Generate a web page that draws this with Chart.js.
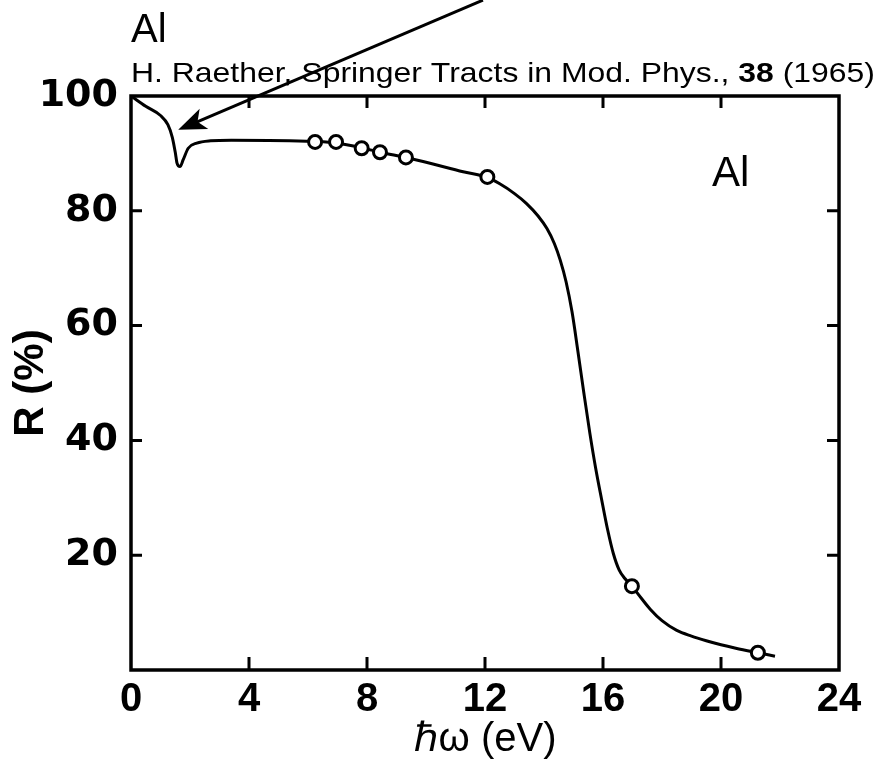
<!DOCTYPE html>
<html>
<head>
<meta charset="utf-8">
<script src="https://cdn.jsdelivr.net/npm/chart.js@4.4.0/dist/chart.umd.min.js"></script>
<style>
  html, body { margin: 0; padding: 0; background: #fff; }
  #wrap { width: 881px; height: 774px; }
</style>
</head>
<body>
<div id="wrap"><canvas id="myChart" width="881" height="774"></canvas></div>
<script>
// photon energy (eV) and reflectance (%)
const curveX = [0, 0.5, 1.0, 1.25, 1.4, 1.5, 1.56, 1.66, 1.77, 1.94, 2.23, 2.7, 3.4, 6.2, 6.95, 7.8, 8.45, 9.3, 9.9, 11.26, 12.08, 12.5, 13.0, 13.4, 13.8, 14.1, 14.35, 14.55, 14.75, 14.95, 15.15, 15.35, 15.55, 15.75, 15.95, 16.15, 16.35, 16.55, 16.75, 16.98, 17.3, 17.6, 18.0, 18.5, 19.0, 19.5, 20.0, 20.5, 21.25, 21.83];
const curveY = [100, 98.2, 96.6, 95.0, 92.8, 90.2, 88.3, 87.7, 88.9, 90.9, 91.8, 92.2, 92.3, 92.1, 91.8, 91.0, 90.2, 89.3, 88.6, 86.8, 85.8, 84.7, 83.0, 81.3, 79.1, 76.9, 74.3, 71.4, 67.6, 62.4, 55.5, 48.3, 41.4, 35.2, 29.8, 24.6, 20.3, 17.4, 15.9, 14.6, 12.5, 10.6, 8.6, 6.9, 5.9, 5.1, 4.4, 3.8, 3.0, 2.4];

// measured points (open circles)
const pointsX = [6.24, 6.95, 7.82, 8.44, 9.32, 12.08, 16.98, 21.25];
const pointsY = [92.0, 92.0, 90.9, 90.2, 89.3, 85.9, 14.6, 3.0];

const xTicks = [0, 4, 8, 12, 16, 20, 24];
const yTicks = [0, 20, 40, 60, 80, 100];

// arrow pointing at the dip, in data units (tail runs off the top)
const arrowTip = [1.6, 94.1];
const arrowTail = [11.93, 116.7];

const curveData = curveX.map((x, i) => ({ x: x, y: curveY[i] }));
const pointData = pointsX.map((x, i) => ({ x: x, y: pointsY[i] }));

const framePlugin = {
  id: 'frame',
  afterDatasetsDraw(chart) {
    const ctx = chart.ctx;
    const a = chart.chartArea;
    const xs = chart.scales.x;
    const ys = chart.scales.y;
    ctx.save();
    ctx.strokeStyle = '#000';
    ctx.lineWidth = 3.5;
    ctx.strokeRect(a.left, a.top, a.right - a.left, a.bottom - a.top);

    // inward tick marks on all four sides
    ctx.lineWidth = 3;
    ctx.beginPath();
    xTicks.forEach(v => {
      if (v === 0 || v === 24) return;
      const px = xs.getPixelForValue(v);
      ctx.moveTo(px, a.bottom); ctx.lineTo(px, a.bottom - 13);
      ctx.moveTo(px, a.top); ctx.lineTo(px, a.top + 12);
    });
    yTicks.forEach(v => {
      if (v === 0 || v === 100) return;
      const py = ys.getPixelForValue(v);
      ctx.moveTo(a.left, py); ctx.lineTo(a.left + 11, py);
      ctx.moveTo(a.right, py); ctx.lineTo(a.right - 12, py);
    });
    ctx.stroke();

    // arrow
    const tx = xs.getPixelForValue(arrowTip[0]), ty = ys.getPixelForValue(arrowTip[1]);
    const sx = xs.getPixelForValue(arrowTail[0]), sy = ys.getPixelForValue(arrowTail[1]);
    const len = Math.hypot(sx - tx, sy - ty);
    const ux = (sx - tx) / len, uy = (sy - ty) / len;
    const hl = 28, hw = 11;
    ctx.lineWidth = 3;
    ctx.beginPath();
    ctx.moveTo(tx + ux * 20, ty + uy * 20);
    ctx.lineTo(sx, sy);
    ctx.stroke();
    ctx.fillStyle = '#000';
    ctx.beginPath();
    ctx.moveTo(tx, ty);
    ctx.lineTo(tx + ux * hl - uy * hw, ty + uy * hl + ux * hw);
    ctx.lineTo(tx + ux * hl * 0.75, ty + uy * hl * 0.75);
    ctx.lineTo(tx + ux * hl + uy * hw, ty + uy * hl - ux * hw);
    ctx.closePath();
    ctx.fill();
    ctx.restore();
  },
  afterDraw(chart) {
    const ctx = chart.ctx;
    ctx.save();
    ctx.fillStyle = '#000';
    ctx.textBaseline = 'alphabetic';
    ctx.font = '40px "Liberation Sans", Arial, sans-serif';
    ctx.fillText('Al', 131, 42);
    ctx.font = '42px "Liberation Sans", Arial, sans-serif';
    ctx.fillText('Al', 712, 186);

    // reference line with bold volume number, stretched to the original width
    const parts = [
      ['H. Raether, Springer Tracts in Mod. Phys., ', ''],
      ['38', 'bold '],
      [' (1965)', '']
    ];
    let total = 0;
    parts.forEach(p => {
      ctx.font = p[1] + '28px "Liberation Sans", Arial, sans-serif';
      total += ctx.measureText(p[0]).width;
    });
    const stretch = 744 / total;
    ctx.translate(131, 82);
    ctx.scale(stretch, 1);
    let x = 0;
    parts.forEach(p => {
      ctx.font = p[1] + '28px "Liberation Sans", Arial, sans-serif';
      ctx.fillText(p[0], x, 0);
      x += ctx.measureText(p[0]).width;
    });
    ctx.restore();
  }
};

const ctx = document.getElementById('myChart');
new Chart(ctx, {
  type: 'scatter',
  data: {
    datasets: [
      {
        label: 'measured',
        data: pointData,
        order: 0,
        pointRadius: 6.5,
        pointBorderWidth: 3,
        pointBorderColor: '#000',
        pointBackgroundColor: '#fff',
        showLine: false
      },
      {
        label: 'R',
        data: curveData,
        order: 1,
        showLine: true,
        pointRadius: 0,
        borderColor: '#000',
        borderWidth: 3,
        cubicInterpolationMode: 'monotone'
      }
    ]
  },
  options: {
    responsive: false,
    animation: false,
    layout: { padding: { top: 96, right: 42, left: 0, bottom: 0 } },
    plugins: {
      legend: { display: false },
      tooltip: { enabled: false }
    },
    scales: {
      x: {
        type: 'linear',
        min: 0,
        max: 24,
        afterFit(scale) { scale.height = 104; },
        afterBuildTicks(scale) { scale.ticks = xTicks.map(v => ({ value: v })); },
        grid: { display: false, drawTicks: false },
        border: { display: false },
        ticks: {
          padding: 6,
          color: '#000',
          font: { family: '"Liberation Sans", Arial, sans-serif', size: 40, weight: 'bold' }
        },
        title: {
          display: true,
          text: 'ℏω (eV)',
          color: '#000',
          padding: { top: 0, bottom: 10 },
          font: { family: '"Liberation Sans", Arial, sans-serif', size: 40 }
        }
      },
      y: {
        type: 'linear',
        min: 0,
        max: 100,
        afterFit(scale) { scale.width = 131; },
        afterBuildTicks(scale) { scale.ticks = yTicks.map(v => ({ value: v })); },
        grid: { display: false, drawTicks: false },
        border: { display: false },
        ticks: {
          padding: 13,
          color: '#000',
          font: { family: '"DejaVu Sans", sans-serif', size: 38, weight: 'bold' },
          callback: v => v === 0 ? '' : v
        },
        title: {
          display: true,
          text: 'R (%)',
          color: '#000',
          padding: { top: 6, bottom: 0 },
          font: { family: '"Liberation Sans", Arial, sans-serif', size: 42, weight: 'bold' }
        }
      }
    }
  },
  plugins: [framePlugin]
});
</script>
</body>
</html>
